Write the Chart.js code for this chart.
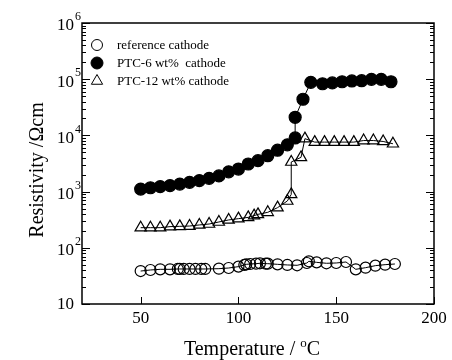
<!DOCTYPE html>
<html>
<head>
<meta charset="utf-8">
<script src="https://cdn.jsdelivr.net/npm/chart.js@4.4.0/dist/chart.umd.min.js"></script>
<style>
  html, body { margin: 0; padding: 0; background: #fff; }
  canvas { display: block; }
</style>
</head>
<body>
<canvas id="chart" width="452" height="360"></canvas>
<script>
// temperature (C) and resistivity (ohm cm)
const refT = [50, 55, 60, 65, 69, 70, 72, 75, 78, 81, 83, 90, 95, 100, 103, 104, 106, 109, 111, 114, 115,
  120, 125, 130, 135, 136, 140, 145, 150, 155, 160, 165, 170, 175, 180];
const refR = [38.6, 40.3, 41.4, 41.4, 42, 42, 42, 42, 42, 42, 42, 42.5, 43.7, 46.2, 49.5, 50.8, 51.5, 52.2, 53, 52.2, 52.2,
  50.8, 49.5, 48.8, 53.7, 57.5, 55.1, 53, 53.7, 55.9, 41.4, 44.3, 48.1, 50.1, 51.5];

const ptc6T = [50, 55, 60, 65, 70, 75, 80, 85, 90, 95, 100, 105, 110, 115, 120, 125, 129, 129, 133, 137,
  143, 148, 153, 158, 163, 168, 173, 178];
const ptc6R = [1110, 1170, 1230, 1280, 1360, 1460, 1570, 1720, 1900, 2250, 2520, 3100, 3550, 4350, 5450, 6800, 9000, 21000, 44000, 88000,
  83000, 86000, 90000, 93000, 94000, 99500, 99500, 90000];

const ptc12T = [50, 55, 60, 65, 70, 75, 80, 85, 90, 95, 100, 105, 108, 110, 115, 120, 125, 127, 127, 132, 134,
  139, 144, 149, 154, 159, 164, 169, 174, 179];
const ptc12R = [228, 228, 228, 238, 241, 244, 255, 265, 288, 313, 330, 348, 373, 394, 428, 518, 681, 891, 3360, 4070, 8750,
  7600, 7600, 7600, 7600, 7600, 8100, 8100, 7800, 7100];

const seriesNames = ['reference cathode', 'PTC-6 wt%  cathode', 'PTC-12 wt% cathode'];
const xTicks = [50, 100, 150, 200];
const yExponents = [1, 2, 3, 4, 5, 6];

const serif = "'Liberation Serif', 'Times New Roman', serif";

function pairs(xs, ys) {
  return xs.map((x, i) => ({ x: x, y: ys[i] }));
}

const markers = [
  { style: 'circle', radius: 5.5, fill: 'rgba(0,0,0,0)' },
  { style: 'circle', radius: 6, fill: '#000' },
  { style: 'triangle', radius: 6.5, fill: 'rgba(0,0,0,0)' }
];

function makeSet(i, data) {
  return {
    label: seriesNames[i],
    data: data,
    borderColor: '#000',
    borderWidth: 1,
    pointStyle: markers[i].style,
    pointRadius: markers[i].radius,
    pointBackgroundColor: markers[i].fill,
    pointBorderColor: '#000',
    pointBorderWidth: 1.2,
    tension: 0
  };
}

// frame, inward ticks, tick labels, titles and legend
const decor = {
  id: 'decor',
  afterDraw(chart) {
    const ctx = chart.ctx;
    const a = chart.chartArea;
    const x = chart.scales.x;
    const y = chart.scales.y;
    ctx.save();
    ctx.strokeStyle = '#000';
    ctx.fillStyle = '#000';

    ctx.lineWidth = 1.5;
    ctx.strokeRect(a.left, a.top, a.right - a.left, a.bottom - a.top);

    ctx.lineWidth = 1;
    ctx.beginPath();
    xTicks.forEach(v => {
      const px = Math.round(x.getPixelForValue(v)) + 0.5;
      ctx.moveTo(px, a.bottom);
      ctx.lineTo(px, a.bottom - 7);
    });
    for (let e = 1; e <= 6; e++) {
      for (let m = 1; m <= 9; m++) {
        const v = m * Math.pow(10, e);
        if (v > 1e6) break;
        const py = Math.round(y.getPixelForValue(v)) + 0.5;
        const len = m === 1 ? 8 : 4;
        ctx.moveTo(a.left, py);
        ctx.lineTo(a.left + len, py);
        ctx.moveTo(a.right, py);
        ctx.lineTo(a.right - len, py);
      }
    }
    ctx.stroke();

    // x tick labels
    ctx.font = '17px ' + serif;
    ctx.textAlign = 'center';
    ctx.textBaseline = 'middle';
    xTicks.forEach(v => {
      ctx.fillText(String(v), x.getPixelForValue(v), a.bottom + 15);
    });

    // y tick labels 10^n
    yExponents.forEach(e => {
      const py = y.getPixelForValue(Math.pow(10, e));
      ctx.font = '17px ' + serif;
      ctx.textAlign = 'right';
      ctx.textBaseline = 'middle';
      if (e === 1) {
        ctx.fillText('10', 74, py + 1);
      } else {
        ctx.fillText('10', 74, py + 3);
        ctx.font = '12px ' + serif;
        ctx.textAlign = 'left';
        ctx.fillText(String(e), 75, py - 6);
      }
    });

    // x title with superscript o
    const t1 = 'Temperature / ';
    const t2 = 'o';
    const t3 = 'C';
    ctx.textBaseline = 'alphabetic';
    ctx.textAlign = 'left';
    ctx.font = '20px ' + serif;
    const w1 = ctx.measureText(t1).width;
    const w3 = ctx.measureText(t3).width;
    ctx.font = '13px ' + serif;
    const w2 = ctx.measureText(t2).width;
    let tx = 252 - (w1 + w2 + w3) / 2;
    ctx.font = '20px ' + serif;
    ctx.fillText(t1, tx, 355);
    ctx.font = '13px ' + serif;
    ctx.fillText(t2, tx + w1, 347);
    ctx.font = '20px ' + serif;
    ctx.fillText(t3, tx + w1 + w2, 355);

    // y title
    ctx.save();
    ctx.translate(43, 170);
    ctx.rotate(-Math.PI / 2);
    ctx.textAlign = 'center';
    ctx.font = '20px ' + serif;
    ctx.fillText('Resistivity /\u03A9cm', 0, 0);
    ctx.restore();

    // legend
    const ly = [45, 63, 81];
    seriesNames.forEach((name, i) => {
      ctx.fillStyle = markers[i].fill;
      ctx.strokeStyle = '#000';
      Chart.helpers.drawPoint(ctx, { pointStyle: markers[i].style, radius: markers[i].radius, borderWidth: 1.2, rotation: 0 }, 97, ly[i]);
      ctx.fillStyle = '#000';
      ctx.font = '13px ' + serif;
      ctx.textAlign = 'left';
      ctx.textBaseline = 'middle';
      ctx.fillText(name, 117, ly[i] + 1);
    });

    ctx.restore();
  }
};

const ctx = document.getElementById('chart').getContext('2d');
const chart = new Chart(ctx, {
  type: 'line',
  data: {
    datasets: [
      makeSet(0, pairs(refT, refR)),
      makeSet(1, pairs(ptc6T, ptc6R)),
      makeSet(2, pairs(ptc12T, ptc12R))
    ]
  },
  options: {
    responsive: false,
    animation: false,
    layout: { padding: { left: 0, right: 18, top: 23, bottom: 0 } },
    plugins: {
      legend: { display: false },
      tooltip: { enabled: false }
    },
    scales: {
      x: {
        type: 'linear',
        min: 20,
        max: 200,
        grid: { display: false },
        border: { display: false },
        ticks: { display: false },
        afterFit: s => { s.height = 56; }
      },
      y: {
        type: 'logarithmic',
        min: 10,
        max: 1e6,
        grid: { display: false },
        border: { display: false },
        ticks: { display: false },
        afterFit: s => { s.width = 82; }
      }
    }
  },
  plugins: [decor]
});
</script>
</body>
</html>
